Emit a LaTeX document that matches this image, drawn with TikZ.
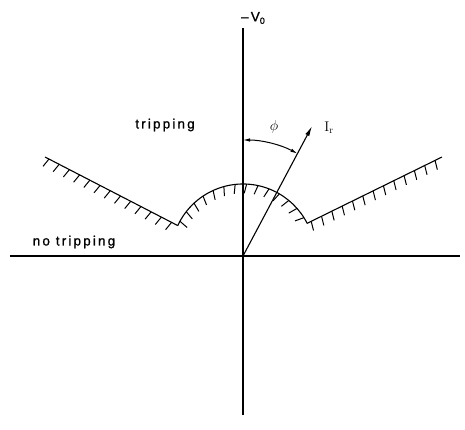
\documentclass[tikz,border=0pt]{standalone}
\usepackage{fontspec}
\newfontfamily\labelfont[LetterSpace=16, FakeBold=1]{Liberation Sans}
\usetikzlibrary{arrows.meta,decorations.markings}
\tikzset{
  axis/.style={line width=1.1pt, draw=black},
  hatchline/.style={line width=1.1pt, postaction={decorate}, decoration={markings, mark=between positions 0.03 and 1 step 11.5pt with {\draw[line width=1pt] (0,0) -- (-102:9.5pt);}}},
  vecarrow/.style={line width=1.1pt, -{Latex[length=10pt, width=4.5pt]}},
  anglearrow/.style={line width=1pt, {Latex[length=7pt, width=3.5pt]}-{Latex[length=7pt, width=3.5pt]}},
  lbl/.style={font=\fontsize{13.5}{15}\selectfont\labelfont, inner sep=1pt},
}

\begin{document}
\begin{tikzpicture}[x=1pt, y=1pt]
    \useasboundingbox (-243,-174) rectangle (222,256);
    % axes
    \coordinate (O) at (0,0);
    \coordinate (vtop) at (0,228);
    \coordinate (vbot) at (0,-159);
    \coordinate (hleft) at (-233,0);
    \coordinate (hright) at (217,0);
    \draw[axis] (vbot) -- (vtop);
    \draw[axis] (hleft) -- (hright);
    % tripping boundary
    \coordinate (louter) at (-198,99);
    \coordinate (linner) at (155:72);
    \coordinate (rinner) at (27:72);
    \coordinate (router) at (199,99);
    \draw[hatchline] (louter) -- (linner);
    \draw[hatchline] (linner) arc[start angle=155, end angle=27, radius=72];
    \draw[hatchline] (rinner) -- (router);
    % current vector and angle
    \coordinate (irtip) at (62:147);
    \draw[vecarrow] (O) -- (irtip);
    \coordinate (phistart) at (90:116);
    \draw[anglearrow] (phistart) arc[start angle=90, end angle=62, radius=116];
    % labels
    \node[lbl] (vlabel) at (10,238) {\textendash V\raisebox{-0.35ex}{\small 0}};
    \node[lbl] (trip) at (-78,131) {tripping};
    \node[lbl] (notrip) at (-169,14) {no tripping};
    \node[font=\fontsize{14}{15}\selectfont] (phi) at (31,129) {$\phi$};
    \node[font=\fontsize{14}{15}\selectfont] (irlabel) at (86,128) {$\mathrm{I_r}$};
\end{tikzpicture}
\end{document}
